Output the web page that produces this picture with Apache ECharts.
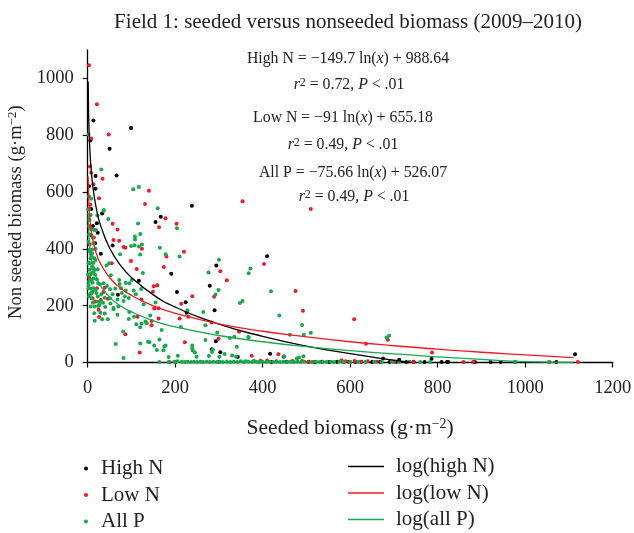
<!DOCTYPE html>
<html><head><meta charset="utf-8">
<style>html,body{margin:0;padding:0;background:#fff}#c{width:634px;height:533px}</style>
<script src="https://cdn.jsdelivr.net/npm/echarts@6/dist/echarts.min.js"></script>
</head><body><div id="c"></div>
<script>
var titleText = 'Field 1: seeded versus nonseeded biomass (2009–2010)';
var yTicks = [0,200,400,600,800,1000];
var highN = [[13,852],[99,825],[50,752],[6,781],[66,658],[18,656],[18,611],[238,552],[167,513],[155,494],[33,524],[21,490],[23,457],[17,420],[57,412],[30,383],[7,449],[191,312],[294,341],[279,270],[117,288],[204,248],[224,212],[69,238],[226,175],[290,184],[293,75],[284,47],[303,36],[343,19],[410,374],[417,31],[448,20],[675,14],[712,10],[786,13],[1114,29],[505,3],[520,2],[535,3],[552,2],[570,3],[585,2],[597,3],[612,2],[625,3],[650,2],[668,3],[690,2],[705,3],[728,2],[745,3],[770,2],[809,2],[821,2],[824,2],[885,2],[921,2],[944,2],[977,2],[1071,2],[300,3],[420,2],[455,3],[3,620],[8,540],[12,480]];
var lowN = [[3,1046],[21,909],[48,802],[8,788],[5,690],[8,668],[13,627],[34,647],[26,578],[6,555],[140,604],[131,558],[354,567],[510,540],[178,508],[57,488],[68,468],[163,476],[203,488],[59,431],[72,428],[82,406],[86,404],[124,400],[220,390],[180,373],[99,357],[174,336],[112,329],[55,349],[303,321],[318,289],[159,272],[151,268],[149,249],[289,231],[239,233],[214,207],[123,222],[46,224],[21,261],[39,263],[7,243],[11,226],[25,186],[26,160],[86,99],[114,161],[152,190],[162,191],[162,155],[146,131],[146,146],[210,155],[230,161],[283,141],[346,108],[299,84],[222,71],[119,35],[187,2],[403,347],[475,252],[492,182],[609,152],[636,66],[686,80],[787,35],[436,29],[859,2],[881,2],[1055,2],[1120,2],[375,24],[395,6],[410,7],[431,4],[468,5],[490,5],[504,3],[515,2],[580,8],[590,4],[600,3],[610,5],[625,3],[640,4],[660,3],[700,3],[745,2],[3,480],[9,470],[14,440],[4,415],[8,380],[3,300],[12,330],[30,220],[17,215],[36,248]];
var allP = [[2,802],[31,679],[104,610],[117,618],[3,584],[8,576],[160,543],[3,540],[37,537],[47,505],[115,489],[204,472],[36,533],[22,517],[120,452],[108,443],[108,433],[99,410],[107,413],[117,408],[124,415],[165,404],[120,380],[74,381],[178,381],[210,373],[300,362],[276,317],[372,331],[368,314],[126,315],[53,307],[43,341],[49,349],[101,290],[72,290],[95,279],[87,280],[73,276],[63,260],[51,258],[36,279],[28,275],[44,269],[76,261],[87,253],[105,253],[122,259],[299,255],[292,239],[354,216],[348,209],[228,184],[264,178],[155,211],[82,216],[94,227],[59,192],[59,187],[70,197],[95,178],[143,165],[106,161],[94,153],[132,144],[135,138],[123,137],[111,135],[120,124],[81,109],[169,114],[213,125],[269,131],[296,106],[367,90],[325,86],[335,91],[269,79],[164,81],[120,67],[138,73],[141,71],[152,60],[158,44],[175,56],[178,60],[173,43],[64,65],[82,16],[239,60],[239,50],[240,42],[245,35],[249,20],[185,19],[206,24],[277,23],[284,37],[286,45],[301,20],[313,30],[341,55],[330,25],[339,20],[1,539],[7,519],[15,466],[19,466],[10,398],[5,390],[2,349],[5,349],[13,351],[10,337],[4,326],[7,312],[13,296],[9,290],[2,261],[4,238],[3,232],[11,249],[23,232],[24,214],[27,202],[16,197],[15,173],[16,147],[39,172],[33,152],[46,152],[7,197],[18,255],[13,261],[8,243],[28,214],[24,199],[39,228],[51,226],[23,328],[17,326],[11,316],[5,308],[5,290],[2,273],[15,367],[18,361],[9,373],[4,396],[2,425],[4,502],[419,251],[438,165],[490,132],[494,98],[510,105],[462,98],[689,94],[683,88],[368,88],[449,22],[493,22],[483,18],[478,14],[380,6],[362,4],
[5,396],[10,384],[7,367],[13,332],[17,309],[21,293],[11,281],[24,279],[3,349],[1,310],[3,285],[6,260],[9,225],[12,210],[20,245],[31,240],[35,210],[40,195],[29,175],[57,240],[68,222],[85,232],[78,245],[52,208],[68,168],[110,240],[128,205],[11,440],[7,470],[13,420],[3,450],[18,400],
[164,2],[185,2],[198,3],[201,1],[205,4],[215,3],[222,2],[228,3],[236,2],[243,3],[250,2],[258,3],[264,2],[272,3],[279,2],[287,3],[295,2],[302,3],[309,2],[318,3],[326,2],[334,3],[342,2],[350,4],[358,2],[368,3],[376,2],[385,3],[392,2],[400,3],[408,2],[416,3],[424,2],[432,3],[440,2],[448,3],[456,2],[464,3],[472,2],[480,3],[488,2],[496,3],[512,2],[522,3],[530,2],[538,3],[546,2],[556,3],[563,2],[575,3],[584,2],[600,2],[618,3],[635,2],[655,3],[672,2],[695,3],[712,2],[735,3],[760,2],[783,2],[977,2],[1055,2]];
var logHighX = [1,2,3,5,8,12,20,30,50,75,100,150,200,300,400,500,600,700,740];
var logHighY = [989,885,824,748,677,617,540,480,403,342,299,238,195,135,92,58,31,8,0];
var logLowX = [1,2,3,5,8,12,20,30,50,75,100,150,200,300,400,500,600,700,800,900,1000,1110];
var logLowY = [655,592,555,509,466,429,382,346,299,262,236,199,173,136,110,90,73,59,47,36,27,17];
var logAllX = [1,2,3,5,8,12,20,30,50,75,100,150,200,300,400,500,600,700,800,900,1000,1110];
var logAllY = [526,474,443,404,369,338,299,269,230,199,178,147,125,95,73,56,42,30,20,11,3,0];
var pairs = function(a,b){return a.map(function(v,i){return [v,b[i]];});};

var serif = '"Liberation Serif", serif';
var supRich = {
  sup:{fontFamily:serif,fontSize:12,verticalAlign:'top',lineHeight:17,fill:'#222',color:'#222'},
  it:{fontFamily:serif,fontStyle:'italic',fontSize:15.8,color:'#222',fill:'#222'}
};
function note(cx,cy,t){
  return {type:'text',x:cx,y:cy,silent:true,style:{text:t,fontFamily:serif,fontSize:15.8,fill:'#222',align:'center',verticalAlign:'middle',rich:supRich}};
}
var axisRich = {sup:{fontFamily:serif,fontSize:14,verticalAlign:'top',lineHeight:22,color:'#222'}};
var plain = function(v){return String(v);};

var chart = echarts.init(document.getElementById('c'),null,{renderer:'canvas'});
var ptStyle = function(c){return {type:'scatter',symbol:'circle',symbolSize:4,itemStyle:{color:c,opacity:1},emphasis:{disabled:true},animation:false};};
var lineS = function(name,data,c,w){return {name:name,type:'line',data:data,symbol:'none',smooth:0.5,lineStyle:{color:c,width:w},itemStyle:{color:c},animation:false,z:3};};
var nameMk = function(n){return {name:n,icon:'rect'};};
chart.setOption({
  backgroundColor:'#fff',
  animation:false,
  textStyle:{fontFamily:serif,color:'#222'},
  title:{text:titleText,left:343,top:7,textAlign:'center',textStyle:{fontFamily:serif,fontSize:21,fontWeight:'normal',color:'#222'}},
  grid:{left:87.7,right:21.3,top:49.9,bottom:170.5,containLabel:false,outerBoundsMode:'none'},
  xAxis:{type:'value',min:0,max:1200,interval:200,
    name:'Seeded biomass (g·m{sup|−2})',nameLocation:'middle',nameGap:55,
    nameTextStyle:{fontFamily:serif,fontSize:21.5,color:'#222',rich:axisRich},
    axisLine:{onZero:false,lineStyle:{color:'#000',width:1.3}},axisTick:{length:5,lineStyle:{color:'#000',width:1.2}},
    axisLabel:{fontFamily:serif,fontSize:18.5,color:'#222',margin:16,formatter:plain,hideOverlap:false,showMaxLabel:true,showMinLabel:true},splitLine:{show:false}},
  yAxis:{type:'value',min:0,max:1100,interval:200,
    name:'Non seeded biomass (g·m{sup|−2})',nameLocation:'middle',nameGap:52,
    nameTextStyle:{fontFamily:serif,fontSize:18.6,color:'#222',padding:[0,12,0,0],rich:{sup:{fontFamily:serif,fontSize:13,verticalAlign:'top',lineHeight:20,color:'#222'}}},
    axisLine:{onZero:false,lineStyle:{color:'#000',width:1.3}},
    axisTick:{length:5,lineStyle:{color:'#000',width:1.2},customValues:yTicks},
    axisLabel:{fontFamily:serif,fontSize:18.5,color:'#222',margin:14,formatter:plain,customValues:yTicks},splitLine:{show:false}},
  legend:[
    {data:[{name:'High N',icon:'circle'},{name:'Low N',icon:'circle'},{name:'All P',icon:'circle'}],orient:'vertical',left:84,top:458,padding:0,height:75,itemWidth:4,itemHeight:4,itemGap:5.5,selectedMode:false,
     textStyle:{fontFamily:serif,fontSize:21,color:'#222',lineHeight:21,padding:[0,0,0,8]}},
    {data:[nameMk('log(high N)'),nameMk('log(low N)'),nameMk('log(all P)')],orient:'vertical',left:348,top:456,padding:0,height:76,itemWidth:36,itemHeight:1.4,itemGap:5.5,selectedMode:false,
     textStyle:{fontFamily:serif,fontSize:21,color:'#222',lineHeight:21,padding:[0,0,0,7]}}
  ],
  graphic:[
    note(348,59,'High N = −149.7 ln({it|x}) + 988.64'),
    note(349,85,'{it|r}{sup|2} = 0.72, {it|P} < .01'),
    note(343,118,'Low N = −91 ln({it|x}) + 655.18'),
    note(343,145,'{it|r}{sup|2} = 0.49, {it|P} < .01'),
    note(353,173,'All P = −75.66 ln({it|x}) + 526.07'),
    note(354,197,'{it|r}{sup|2} = 0.49, {it|P} < .01')
  ],
  series:[
    Object.assign(ptStyle('#000'),{name:'High N',data:highN}),
    Object.assign(ptStyle('#ee1c25'),{name:'Low N',data:lowN}),
    Object.assign(ptStyle('#19a84e'),{name:'All P',data:allP}),
    lineS('log(high N)',pairs(logHighX,logHighY),'#000',1.3),
    lineS('log(low N)',pairs(logLowX,logLowY),'#ee1c25',1.3),
    lineS('log(all P)',pairs(logAllX,logAllY),'#19a84e',1.3)
  ]
});
</script></body></html>
